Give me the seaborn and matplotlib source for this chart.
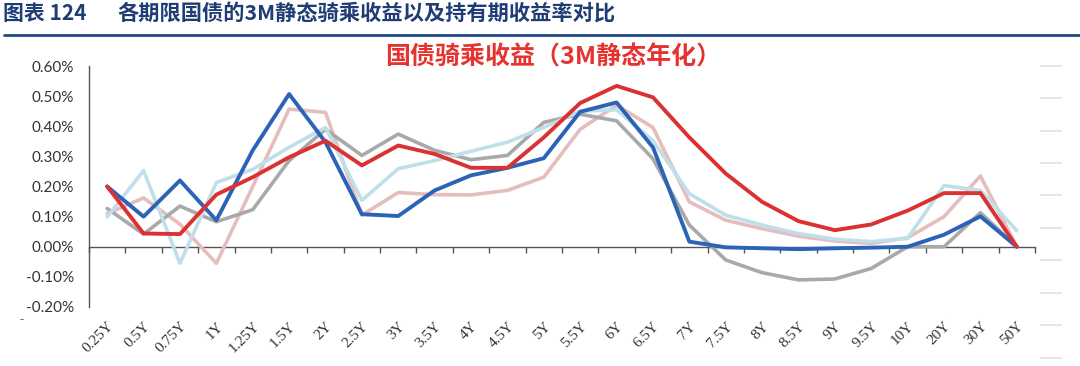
import pandas as pd
import numpy as np
import matplotlib
matplotlib.use("Agg")
import matplotlib.pyplot as plt
import seaborn as sns
from matplotlib.ticker import FuncFormatter

# Tenors on the x axis
tenors = ["0.25Y", "0.5Y", "0.75Y", "1Y", "1.25Y", "1.5Y", "2Y", "2.5Y", "3Y",
          "3.5Y", "4Y", "4.5Y", "5Y", "5.5Y", "6Y", "6.5Y", "7Y", "7.5Y", "8Y",
          "8.5Y", "9Y", "9.5Y", "10Y", "20Y", "30Y", "50Y"]

# Values in percent
riding_3m = [0.20, 0.044, 0.042, 0.173, 0.231, 0.297, 0.352, 0.27, 0.336, 0.308,
             0.262, 0.262, 0.363, 0.477, 0.534, 0.496, 0.363, 0.243, 0.149, 0.085,
             0.055, 0.074, 0.12, 0.178, 0.178, 0.0]
hold_blue = [0.20, 0.10, 0.22, 0.088, 0.32, 0.507, 0.347, 0.108, 0.102, 0.187,
             0.237, 0.262, 0.294, 0.448, 0.479, 0.33, 0.017, -0.002, -0.005, -0.008,
             -0.005, -0.003, 0.0, 0.04, 0.101, 0.0]
hold_lightblue = [0.099, 0.253, -0.055, 0.213, 0.257, 0.33, 0.396, 0.154, 0.259, 0.286,
                  0.317, 0.347, 0.396, 0.45, 0.455, 0.352, 0.176, 0.105, 0.072, 0.044,
                  0.025, 0.017, 0.028, 0.203, 0.187, 0.053]
hold_pink = [0.11, 0.162, 0.075, -0.055, 0.20, 0.457, 0.446, 0.105, 0.18, 0.173,
             0.172, 0.187, 0.231, 0.39, 0.47, 0.396, 0.149, 0.088, 0.06, 0.035,
             0.019, 0.011, 0.03, 0.10, 0.235, 0.0]
hold_gray = [0.127, 0.042, 0.135, 0.083, 0.123, 0.286, 0.39, 0.303, 0.374, 0.32,
             0.289, 0.303, 0.413, 0.44, 0.418, 0.292, 0.072, -0.044, -0.086, -0.11,
             -0.107, -0.072, 0.0, 0.0, 0.113, 0.0]

# drawing order: last one ends up on top
names = ["持有期收益D", "持有期收益C", "持有期收益B", "持有期收益A", "骑乘收益"]
values = [hold_pink, hold_gray, hold_lightblue, hold_blue, riding_3m]
colors = ["#E6BDBD", "#A9A9A9", "#BFE0EA", "#2B63B8", "#DC3132"]

df = pd.concat(
    [pd.DataFrame({"tenor": tenors, "value": v, "series": n}) for n, v in zip(names, values)],
    ignore_index=True,
)

sns.set_style("white")
plt.rcParams["font.family"] = ["Liberation Serif", "Noto Sans CJK SC"]

W, H = 1080, 366
fig = plt.figure(figsize=(W / 100, H / 100), dpi=100)
ax = fig.add_axes([89 / W, 1 - 307 / H, (1035 - 89) / W, (307 - 66) / H])

sns.lineplot(data=df, x="tenor", y="value", hue="series", hue_order=names,
             palette=colors, sort=False, legend=False, linewidth=2.6, ax=ax)
for line in ax.lines[-2:]:
    line.set_linewidth(2.8)

ax.set_xlim(-0.5, 25.5)
ax.set_ylim(-0.2, 0.6)
ax.set_yticks(np.arange(-0.2, 0.61, 0.1))
ax.yaxis.set_major_formatter(FuncFormatter(lambda v, p: f"{v:.2f}%"))
for lbl in ax.get_yticklabels():
    lbl.set_family("Lato")
ax.set_xlabel("")
ax.set_ylabel("")

for s in ["top", "right", "bottom"]:
    ax.spines[s].set_visible(False)
ax.spines["left"].set_color("#555555")
ax.spines["left"].set_linewidth(1)
ax.tick_params(axis="y", direction="out", length=5, width=1, color="#555555",
               labelsize=11, labelcolor="#333333", pad=6)

ax.set_xticks(range(len(tenors)))
ax.set_xticklabels(tenors, rotation=45, ha="right", rotation_mode="anchor",
                   fontsize=11, color="#333333")
ax.tick_params(axis="x", length=0, pad=9)

# zero line with tick marks between categories
zero_ax = ax.secondary_xaxis(0.25)
zero_ax.set_xticks(np.arange(-0.5, 25.6, 1))
zero_ax.tick_params(axis="x", direction="out", length=4, width=1, color="#555555",
                    labelbottom=False)
zero_ax.spines["bottom"].set_color("#555555")
zero_ax.spines["bottom"].set_linewidth(1)

# header
fig.text(3 / W, 1 - 13 / H, "图表 124", family=["Noto Sans CJK SC"],
         fontweight="bold", fontsize=15, color="#1F3C74", va="center", ha="left")
fig.text(118 / W, 1 - 13 / H, "各期限国债的3M静态骑乘收益以及持有期收益率对比",
         family=["Noto Sans CJK SC"], fontweight="bold", fontsize=15.3,
         color="#1F3C74", va="center", ha="left")
fig.add_artist(plt.Line2D([4 / W, 1], [1 - 35 / H] * 2, transform=fig.transFigure,
                          color="#1F4A86", linewidth=2.0))

fig.text(553 / W, 1 - 57 / H, "国债骑乘收益（3M静态年化）",
         family=["Noto Sans CJK SC"], fontweight="bold", fontsize=18,
         color="#E5332F", va="center", ha="center")

fig.text(22 / W, 1 - 320 / H, "-", color="#666666", fontsize=9, ha="center", va="center")

# faint stray gridline stubs at the right edge
ax_r = fig.add_axes([1040 / W, 1 - 364.2 / H, 22 / W, (364.2 - 59.2) / H])
ax_r.set_ylim(-0.2, 9.2)
ax_r.set_yticks(range(10))
ax_r.yaxis.grid(True, color="#E2E2E2", linewidth=1.2)
ax_r.tick_params(left=False, bottom=False, labelleft=False, labelbottom=False)
for s in ax_r.spines.values():
    s.set_visible(False)
ax_r.patch.set_alpha(0)

fig.savefig("out.png", dpi=100)
